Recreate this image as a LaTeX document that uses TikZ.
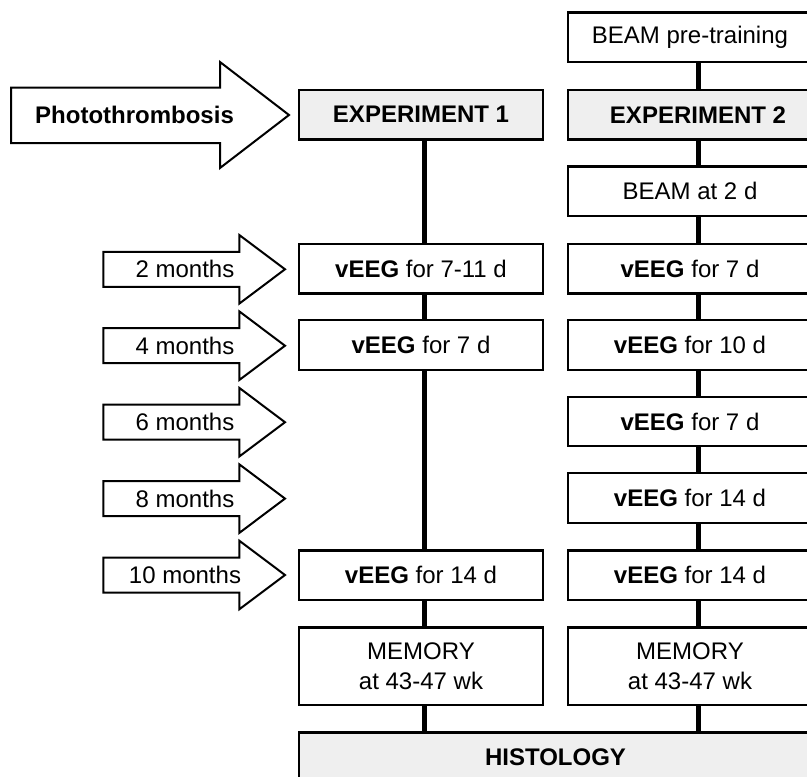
\documentclass[tikz,border=0pt]{standalone}
\usepackage{fontspec}
\setmainfont{Liberation Sans}
\usetikzlibrary{calc}
\definecolor{boxgray}{HTML}{EFEFEF}
\newcommand\montharrow[3]{%
  \draw[arr] (103.3,#2-17.5) -- (239.3,#2-17.5) -- (239.3,#2-34.3) -- (285,#2)
    -- (239.3,#2+34.3) -- (239.3,#2+17.5) -- (103.3,#2+17.5) -- cycle;
  \node (#1) at (185,#2) {#3};}
\begin{document}
\begin{tikzpicture}[x=1bp,y=-1bp,
  every node/.style={font=\fontsize{24bp}{30bp}\selectfont},
  box/.style={draw=black, line width=2.2bp, fill=white, minimum width=244bp,
    minimum height=49.5bp, inner sep=0pt, align=center},
  graybox/.style={box, fill=boxgray},
  conn/.style={line width=5bp},
  arr/.style={draw=black, line width=2bp, fill=white, line join=miter}]
\useasboundingbox (0,0) rectangle (807,777);
\clip (0,0) rectangle (807,777);

% big arrow
\draw[arr] (11,87.7) -- (220,87.7) -- (220,62) -- (289,115) -- (220,168)
  -- (220,143) -- (11,143) -- cycle;
\node (photo) at (134.5,115) {\textbf{Photothrombosis}};

% month arrows
\montharrow{m2}{269.3}{2 months}
\montharrow{m4}{345.7}{4 months}
\montharrow{m6}{422.2}{6 months}
\montharrow{m8}{498.6}{8 months}
\montharrow{m10}{575}{10 months}

% column 1
\node[graybox] (e1) at (421,114.7) {\textbf{EXPERIMENT 1}};
\node[box] (v1a) at (421,268.7) {\textbf{vEEG} for 7-11 d};
\node[box] (v1b) at (421,345) {\textbf{vEEG} for 7 d};
\node[box] (v1c) at (421,575.3) {\textbf{vEEG} for 14 d};
\node[box, minimum height=77.5bp] (mem1) at (421,666.3) {MEMORY\\at 43-47 wk};

% column 2
\node[box] (pre) at (690,37.3) {BEAM pre-training};
\node[graybox] (e2) at (690,114.7) {\hspace{16bp}\textbf{EXPERIMENT 2}};
\node[box] (b2) at (690,191.2) {BEAM at 2 d};
\node[box] (w1) at (690,268.7) {\textbf{vEEG} for 7 d};
\node[box] (w2) at (690,345) {\textbf{vEEG} for 10 d};
\node[box] (w3) at (690,421.5) {\textbf{vEEG} for 7 d};
\node[box] (w4) at (690,498) {\textbf{vEEG} for 14 d};
\node[box] (w5) at (690,575.3) {\textbf{vEEG} for 14 d};
\node[box, minimum height=77.5bp] (mem2) at (690,666.3) {MEMORY\\at 43-47 wk};

% histology
\node[graybox, minimum width=513bp] (hist) at (555.5,757.3) {\textbf{HISTOLOGY}};

% connectors
\coordinate (xa) at (424,0);
\coordinate (xb) at (698.5,0);
\draw[conn] (e1.south -| xa) -- (v1a.north -| xa);
\draw[conn] (v1a.south -| xa) -- (v1b.north -| xa);
\draw[conn] (v1b.south -| xa) -- (v1c.north -| xa);
\draw[conn] (v1c.south -| xa) -- (mem1.north -| xa);
\draw[conn] (mem1.south -| xa) -- (hist.north -| xa);
\draw[conn] (pre.south -| xb) -- (e2.north -| xb);
\draw[conn] (e2.south -| xb) -- (b2.north -| xb);
\draw[conn] (b2.south -| xb) -- (w1.north -| xb);
\draw[conn] (w1.south -| xb) -- (w2.north -| xb);
\draw[conn] (w2.south -| xb) -- (w3.north -| xb);
\draw[conn] (w3.south -| xb) -- (w4.north -| xb);
\draw[conn] (w4.south -| xb) -- (w5.north -| xb);
\draw[conn] (w5.south -| xb) -- (mem2.north -| xb);
\draw[conn] (mem2.south -| xb) -- (hist.north -| xb);
\end{tikzpicture}
\end{document}
